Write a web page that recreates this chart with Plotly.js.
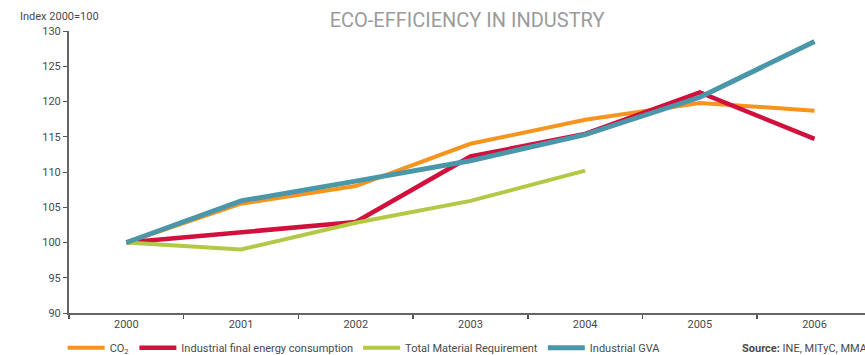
<!DOCTYPE html>
<html>
<head>
<meta charset="utf-8">
<script src="https://cdn.plot.ly/plotly-3.0.1.min.js"></script>
<style>html,body{margin:0;padding:0;background:#fff;}#chart{width:865px;height:355px;}</style>
</head>
<body>
<div id="chart"></div>
<script>
const years = ["2000", "2001", "2002", "2003", "2004", "2005", "2006"];
const co2 = [100, 105.5, 108.0, 114.0, 117.4, 119.8, 118.7];
const energy = [100, 101.5, 102.9, 112.2, 115.4, 121.3, 114.7];
const tmr = [100, 99.0, 102.8, 105.9, 110.2];
const gva = [100, 105.9, 108.7, 111.6, 115.3, 120.6, 128.5];
const seriesNames = ["CO<sub>2</sub>", "Industrial final energy consumption", "Total Material Requirement", "Industrial GVA"];
const yTicks = [90, 95, 100, 105, 110, 115, 120, 125, 130];

const colors = ["#f7941d", "#d2103e", "#b3c844", "#4a97a9"];
const widths = [4, 4.5, 4, 5];
const data = [co2, energy, tmr, gva].map((vals, i) => ({
  type: "scatter",
  mode: "lines",
  x: years.slice(0, vals.length),
  y: vals,
  name: seriesNames[i],
  line: {color: colors[i], width: widths[i], shape: "linear"},
  hoverinfo: "skip"
}));

const layout = {
  width: 865,
  height: 355,
  margin: {l: 69, r: 0, t: 31, b: 42, autoexpand: false},
  paper_bgcolor: "#ffffff",
  plot_bgcolor: "#ffffff",
  font: {family: "Roboto, 'DejaVu Sans', sans-serif", size: 11, color: "#4a4a4a"},
  title: {
    text: "ECO-EFFICIENCY IN INDUSTRY",
    font: {size: 20, color: "#9b9b9b", family: "Roboto, sans-serif"},
    x: 0.54, xanchor: "center",
    y: 0.945, yanchor: "middle"
  },
  xaxis: {
    type: "category",
    range: [-0.5, 6.44],
    tickson: "boundaries",
    ticks: "outside",
    ticklen: 4,
    tickwidth: 1.5,
    tickcolor: "#555",
    showline: true,
    linecolor: "#666",
    linewidth: 1.5,
    showgrid: false,
    zeroline: false,
    tickfont: {size: 11, color: "#4a4a4a"}
  },
  yaxis: {
    range: [90, 130],
    tickvals: yTicks,
    ticks: "outside",
    ticklen: 4,
    tickwidth: 1,
    tickcolor: "#555",
    showline: true,
    linecolor: "#666",
    linewidth: 2,
    showgrid: false,
    zeroline: false,
    tickfont: {size: 11, color: "#4a4a4a"}
  },
  showlegend: true,
  legend: {
    orientation: "h",
    itemwidth: 37,
    x: -0.008, xanchor: "left",
    y: -0.072, yanchor: "top",
    font: {size: 11, color: "#4a4a4a"},
    bgcolor: "rgba(0,0,0,0)"
  },
  annotations: [
    {
      text: "Index 2000=100",
      xref: "paper", yref: "paper",
      x: -0.064, xanchor: "left",
      y: 1.052, yanchor: "middle",
      showarrow: false,
      font: {size: 11, color: "#4a4a4a"}
    },
    {
      text: "<b>Source:</b> INE, MITyC, MMA",
      xref: "paper", yref: "paper",
      x: 0.843, xanchor: "left",
      y: -0.125, yanchor: "middle",
      showarrow: false,
      font: {size: 11, color: "#4a4a4a"}
    }
  ]
};

Plotly.newPlot("chart", data, layout, {displayModeBar: false, staticPlot: true});
</script>
</body>
</html>
